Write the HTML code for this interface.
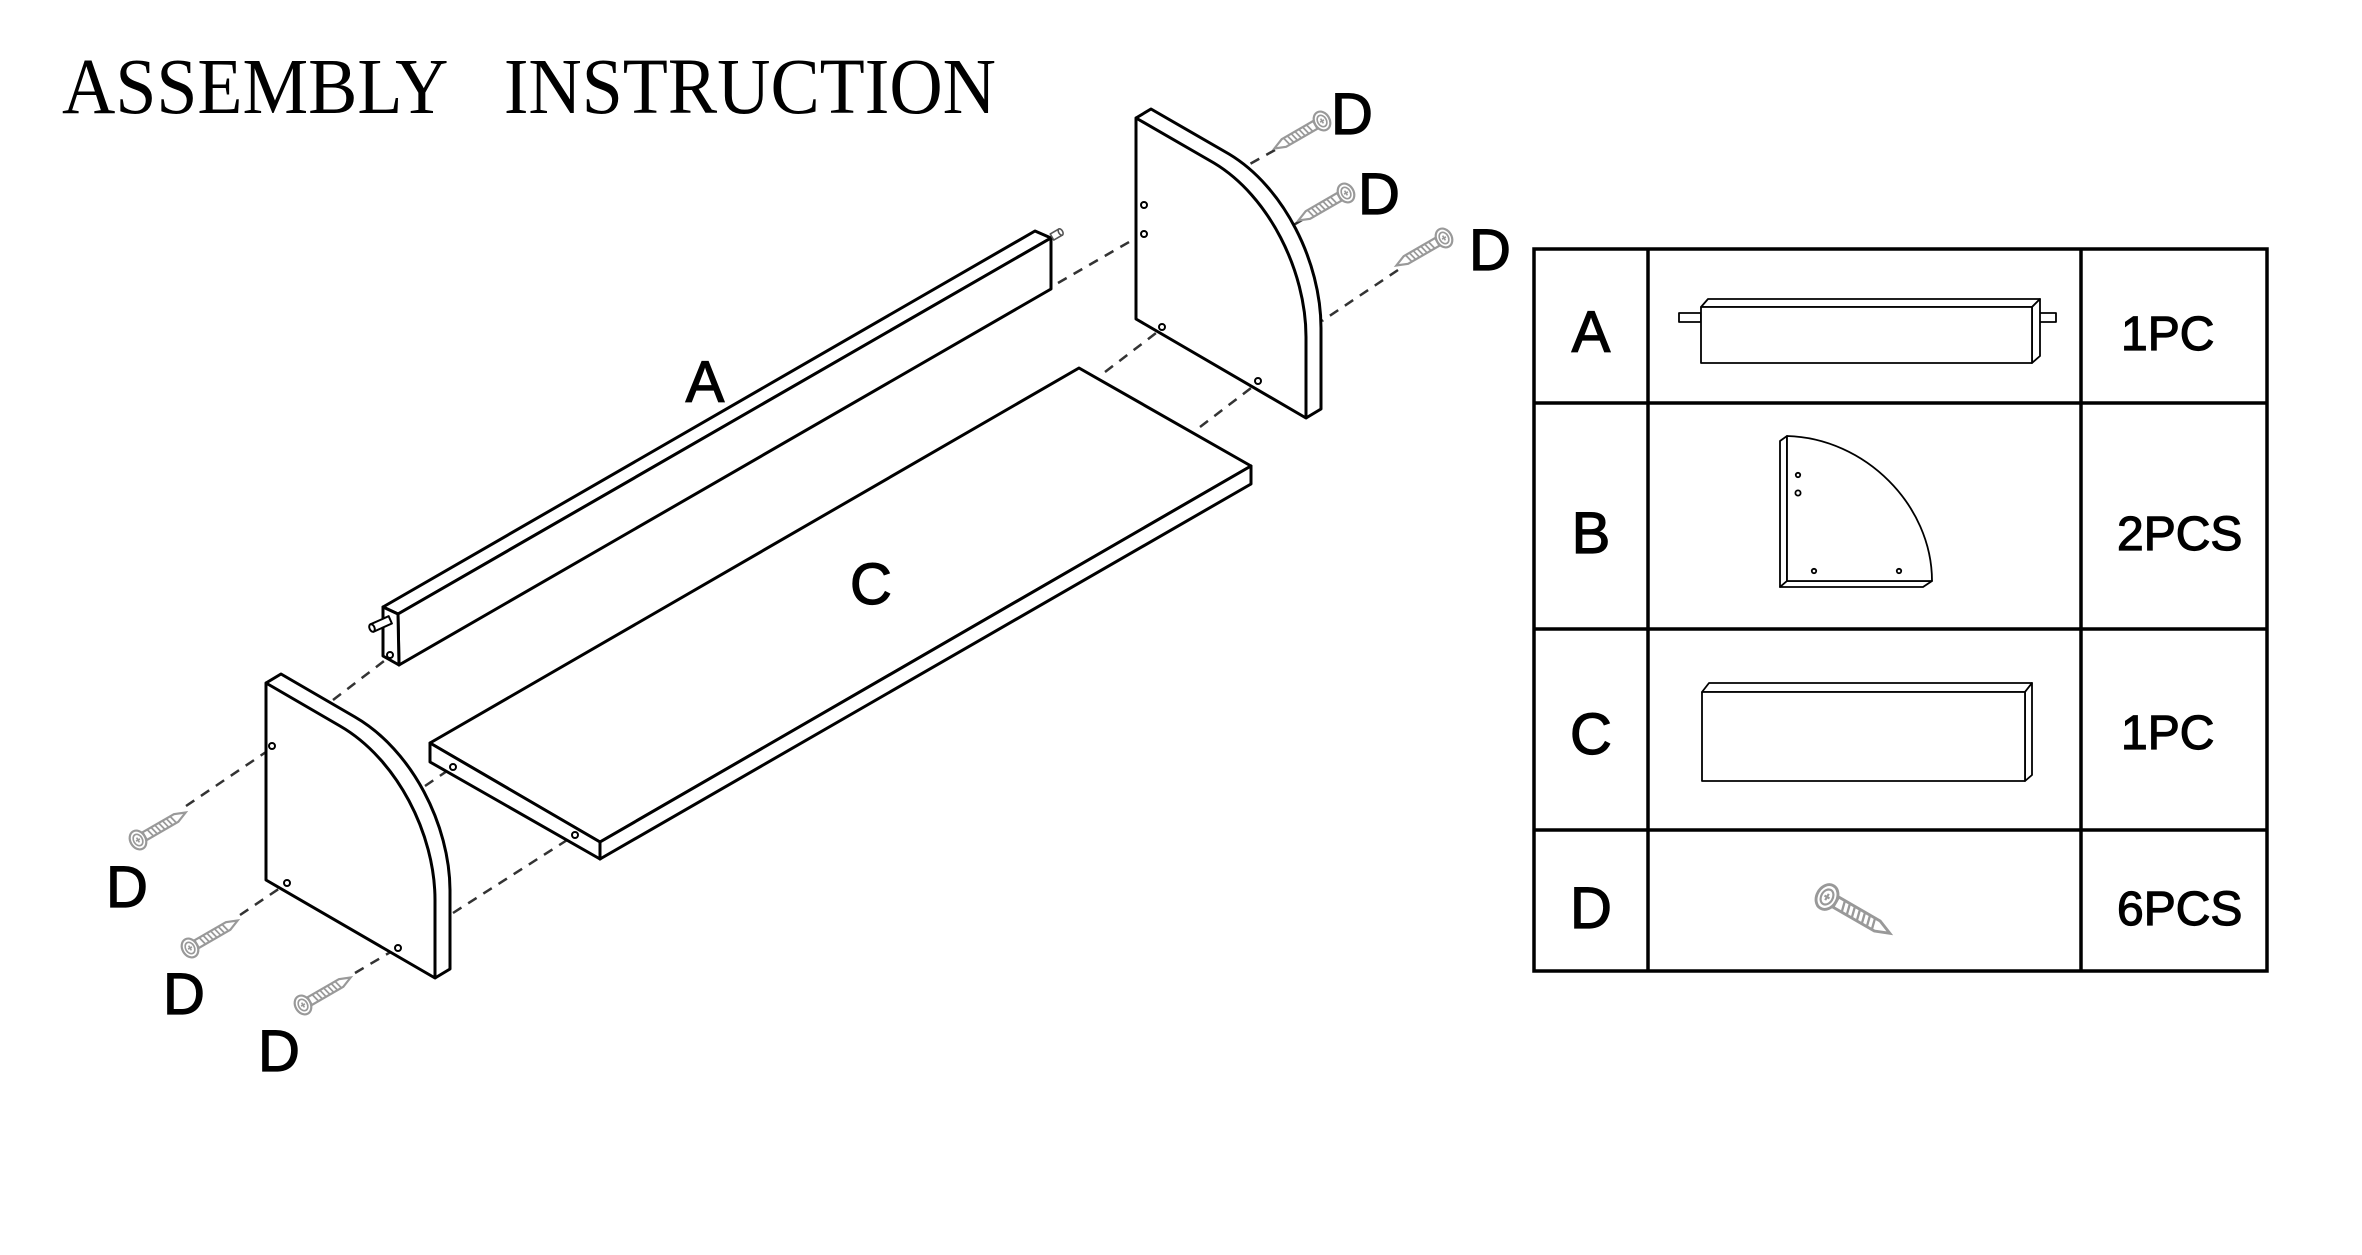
<!DOCTYPE html>
<html><head><meta charset="utf-8"><style>
html,body{margin:0;padding:0;background:#fff;}
svg{display:block;}
.s{font-family:"Liberation Sans",sans-serif;fill:#000;stroke:#000;stroke-width:1.2;}
</style></head><body>
<svg width="2362" height="1255" viewBox="0 0 2362 1255" xmlns="http://www.w3.org/2000/svg">
<defs>
<g id="scr" fill="#fff" stroke="#999" stroke-width="2">
<polygon points="7,-4 40,-4 50,0 40,4 7,4"/>
<g stroke-width="1.6"><line x1="12" y1="-4" x2="14" y2="4"/><line x1="16" y1="-4" x2="18" y2="4"/><line x1="20" y1="-4" x2="22" y2="4"/><line x1="24" y1="-4" x2="26" y2="4"/><line x1="28" y1="-4" x2="30" y2="4"/><line x1="32" y1="-4" x2="34" y2="4"/><line x1="36" y1="-4" x2="38" y2="4"/></g>
<ellipse cx="0" cy="0" rx="7" ry="9"/>
<ellipse cx="0" cy="0" rx="4" ry="5.5" stroke-width="1.5"/>
<path d="M-2,0 h4 M0,-2.5 v5" stroke-width="1.5"/>
</g>
</defs>
<text x="62" y="113" font-family="Liberation Serif,serif" font-size="79" textLength="934" lengthAdjust="spacingAndGlyphs">ASSEMBLY&#160;&#160;&#160;INSTRUCTION</text>

<g fill="none" stroke="#000" stroke-width="3" stroke-linejoin="round">
<g stroke="#333" stroke-width="2.5" stroke-dasharray="10,8">
<line x1="186" y1="806" x2="266" y2="752"/>
<line x1="333" y1="700" x2="388" y2="658"/>
<line x1="240" y1="915" x2="283" y2="886"/>
<line x1="355" y1="973" x2="394" y2="950"/>
<line x1="453" y1="913" x2="575" y2="835"/>
<line x1="425" y1="786" x2="453" y2="767"/>
<line x1="1058" y1="283" x2="1136" y2="238"/>
<line x1="1275" y1="150" x2="1239" y2="170"/>
<line x1="1302" y1="220" x2="1290" y2="227"/>
<line x1="1398" y1="270" x2="1322" y2="321"/>
<line x1="1105" y1="372" x2="1160" y2="330"/>
<line x1="1200" y1="427" x2="1255" y2="385"/>
</g>
<polygon fill="#fff" points="383,607 1035,231 1051,238 398,614"/>
<polygon fill="#fff" points="398,614 1051,238 1051,289 399,665"/>
<polygon fill="#fff" points="383,607 398,614 399,665 383,656"/>
<g transform="translate(372,628) rotate(-24)" stroke-width="2"><rect x="0" y="-4" width="20" height="8" fill="#fff"/><ellipse cx="0" cy="0" rx="2.5" ry="4" fill="#fff"/></g>
<g transform="translate(1052,237) rotate(-30)" stroke-width="1.6" stroke="#555"><rect x="0" y="-3.5" width="10" height="7" fill="#fff"/><ellipse cx="10" cy="0" rx="2" ry="3.5" fill="#fff"/></g>
<circle cx="390" cy="655" r="3" stroke-width="2"/>
<polygon fill="#fff" points="430,743 1079,368 1251,466 600,842"/>
<polygon fill="#fff" points="430,743 600,842 600,859 430,762"/>
<polygon fill="#fff" points="600,842 1251,466 1251,484 600,859"/>
<circle cx="453" cy="767" r="3" stroke-width="2"/>
<circle cx="575" cy="835" r="3" stroke-width="2"/>
<path fill="#fff" d="M266,683 L281,674 L355,717 C412,750 450,825 450,891 L450,969 L435,978"/>
<path fill="#fff" d="M266,683 L340,726 C397,759 435,834 435,900 L435,978 L266,880 Z"/>
<g stroke-width="2"><circle cx="272" cy="746" r="3"/><circle cx="287" cy="883" r="3"/><circle cx="398" cy="948" r="3"/></g>
<path fill="#fff" d="M1136,118 L1151,109 L1229,154 C1284,187 1321,262 1321,328 L1321,409 L1306,418"/>
<path fill="#fff" d="M1136,118 L1214,163 C1269,196 1306,271 1306,337 L1306,418 L1136,319 Z"/>
<g stroke-width="2"><circle cx="1144" cy="205" r="3"/><circle cx="1144" cy="234" r="3"/><circle cx="1162" cy="327" r="3"/><circle cx="1258" cy="381" r="3"/></g>
</g>
<use href="#scr" transform="translate(138,840) rotate(-30) scale(1.1)"/>
<use href="#scr" transform="translate(190,948) rotate(-30) scale(1.1)"/>
<use href="#scr" transform="translate(303,1005) rotate(-30) scale(1.1)"/>
<use href="#scr" transform="translate(1322,121) rotate(150) scale(1.1)"/>
<use href="#scr" transform="translate(1346,193) rotate(150) scale(1.1)"/>
<use href="#scr" transform="translate(1444,238) rotate(150) scale(1.1)"/>
<g class="s" font-size="58" text-anchor="middle">
<text x="705" y="402">A</text>
<text x="871" y="604">C</text>
<text x="1352" y="134">D</text>
<text x="1379" y="214">D</text>
<text x="1490" y="270">D</text>
<text x="127" y="907">D</text>
<text x="184" y="1014">D</text>
<text x="279" y="1071">D</text>
</g>

<g fill="none" stroke="#000" stroke-width="3.5">
<rect x="1534" y="249" width="733" height="722"/>
<line x1="1648" y1="249" x2="1648" y2="971"/>
<line x1="2081" y1="249" x2="2081" y2="971"/>
<line x1="1534" y1="403" x2="2267" y2="403"/>
<line x1="1534" y1="629" x2="2267" y2="629"/>
<line x1="1534" y1="830" x2="2267" y2="830"/>
</g>
<g fill="#fff" stroke="#000" stroke-width="1.8" stroke-linejoin="round">
<rect x="1679" y="313" width="22" height="9"/>
<rect x="2036" y="313" width="20" height="9"/>
<polygon points="1701,307 1708,299 2040,299 2032,307"/>
<polygon points="2032,307 2040,299 2040,356 2032,363"/>
<rect x="1701" y="307" width="331" height="56"/>
<polygon points="1780,441 1787,436 1787,581 1780,587"/>
<polygon points="1780,587 1787,581 1932,581 1923,587"/>
<path d="M1787,436 C1865,438 1932,505 1932,581 L1787,581 Z"/>
<circle cx="1798" cy="475" r="2.2"/><circle cx="1798" cy="493" r="2.6"/><circle cx="1814" cy="571" r="2.2"/><circle cx="1899" cy="571" r="2.2"/>
<polygon points="1702,692 1709,683 2032,683 2025,692"/>
<polygon points="2025,692 2032,683 2032,775 2025,781"/>
<rect x="1702" y="692" width="323" height="89"/>
</g>
<use href="#scr" transform="translate(1827,897) rotate(30) scale(1.45)"/>
<g class="s" font-size="58" text-anchor="middle">
<text x="1591" y="352">A</text>
<text x="1591" y="553">B</text>
<text x="1591" y="754">C</text>
<text x="1591" y="928">D</text>
</g>
<g class="s" font-size="48">
<text x="2121" y="350">1PC</text>
<text x="2117" y="550">2PCS</text>
<text x="2121" y="749">1PC</text>
<text x="2117" y="925">6PCS</text>
</g>
</svg>
</body></html>
